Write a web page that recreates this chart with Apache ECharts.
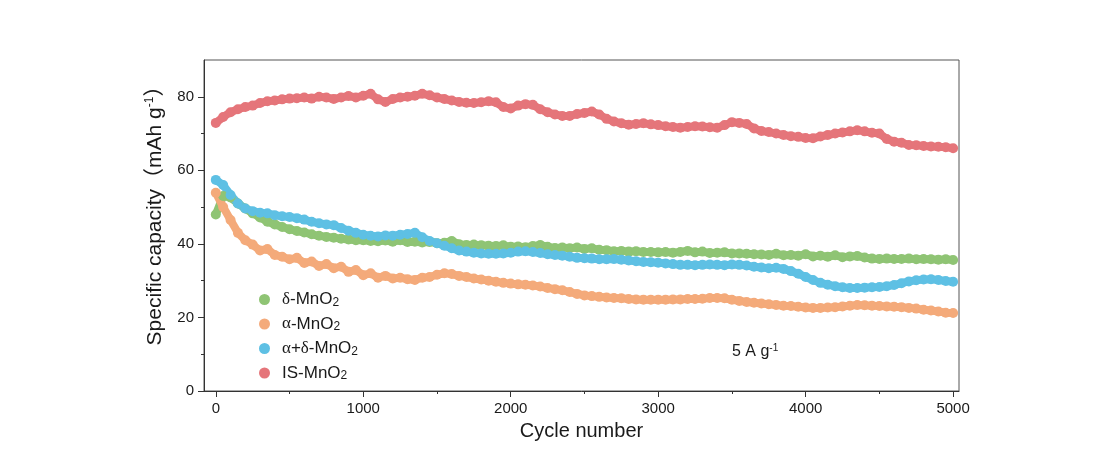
<!DOCTYPE html>
<html>
<head>
<meta charset="utf-8">
<script src="https://cdn.jsdelivr.net/npm/echarts@6/dist/echarts.min.js"></script>
<style>html,body{margin:0;padding:0;background:#fff;}#c{width:1100px;height:457px;}</style>
</head>
<body>
<div id="c"></div>
<script>
const cycles = [0,50,100,150,200,250,300,350,400,450,500,550,600,650,700,750,800,850,900,950,
1000,1050,1100,1150,1200,1250,1300,1350,1400,1450,1500,1550,1600,1650,1700,1750,1800,1850,1900,1950,
2000,2050,2100,2150,2200,2250,2300,2350,2400,2450,2500,2550,2600,2650,2700,2750,2800,2850,2900,2950,
3000,3050,3100,3150,3200,3250,3300,3350,3400,3450,3500,3550,3600,3650,3700,3750,3800,3850,3900,3950,
4000,4050,4100,4150,4200,4250,4300,4350,4400,4450,4500,4550,4600,4650,4700,4750,4800,4850,4900,4950,5000];

const deltaMnO2 = [48.0,53.0,52.6,51.0,49.6,48.3,47.2,46.0,45.3,44.6,44.0,43.5,43.1,42.6,42.2,41.9,41.7,41.4,41.2,41.0,
41.0,40.8,40.7,40.9,40.6,41.0,40.5,40.6,40.4,40.5,40.2,40.3,40.8,39.9,39.7,39.8,39.6,39.5,39.4,39.6,
39.2,39.3,39.1,39.4,39.7,39.2,38.9,39.0,38.8,39.0,38.6,38.8,38.4,38.3,38.0,38.1,37.9,38.0,37.8,37.8,
37.7,37.8,37.6,37.8,38.1,37.7,37.9,37.5,37.6,37.7,37.4,37.4,37.3,37.2,37.1,37.0,37.3,36.9,37.0,36.8,
37.2,36.6,36.8,36.5,36.9,36.4,36.6,36.7,36.3,36.0,35.9,36.0,35.9,35.9,36.0,35.8,35.9,35.8,35.7,35.8,35.6];

const alphaMnO2 = [53.9,50.0,46.5,43.0,41.0,39.8,38.2,38.6,37.0,36.5,35.8,36.2,34.8,35.2,34.0,34.5,33.4,33.8,32.4,32.9,
31.5,32.0,30.8,31.3,30.6,30.8,30.4,30.2,30.8,31.0,31.6,32.0,31.8,31.3,31.0,30.6,30.3,30.0,29.7,29.4,
29.2,29.0,28.9,28.7,28.4,28.0,27.7,27.4,26.9,26.4,26.0,25.8,25.6,25.4,25.3,25.2,25.0,24.9,24.8,24.8,
24.8,24.8,24.9,24.9,25.0,25.0,25.1,25.3,25.3,25.2,24.8,24.5,24.2,24.0,23.8,23.6,23.4,23.2,23.1,22.9,
22.7,22.6,22.6,22.7,22.8,23.0,23.2,23.4,23.3,23.2,23.1,23.0,22.9,22.8,22.6,22.4,22.1,21.9,21.6,21.3,21.2];

const alphaDeltaMnO2 = [57.4,56.0,53.3,51.0,49.6,48.9,48.5,48.3,47.8,47.5,47.3,47.0,46.6,46.0,45.6,45.3,45.1,44.3,43.6,43.0,
42.5,42.2,42.0,42.3,42.2,42.5,42.7,43.0,41.8,40.8,40.2,39.5,38.8,38.2,37.9,37.6,37.4,37.3,37.3,37.4,
37.6,37.9,38.0,37.8,37.5,37.2,37.0,36.8,36.5,36.2,36.1,36.0,35.8,35.8,35.9,35.7,35.5,35.3,35.1,35.0,
34.9,34.7,34.5,34.3,34.3,34.2,34.3,34.4,34.3,34.2,34.4,34.3,34.1,33.8,33.6,33.4,33.5,33.2,32.6,31.9,
31.0,30.2,29.4,28.9,28.5,28.2,28.0,28.0,28.1,28.2,28.3,28.5,28.8,29.3,29.8,30.1,30.3,30.4,30.2,29.9,29.7];

const isMnO2 = [72.9,74.5,75.8,76.6,77.2,77.6,78.3,78.8,79.0,79.3,79.5,79.6,79.8,79.5,80.0,79.8,79.4,79.8,80.2,79.8,
80.3,80.8,79.3,78.6,79.4,79.8,80.0,80.3,80.8,80.4,79.8,79.4,79.0,78.6,78.4,78.3,78.5,78.8,78.5,77.2,
76.8,77.6,78.0,77.8,76.6,75.8,75.2,74.8,74.8,75.3,75.6,76.0,75.2,74.0,73.3,72.8,72.4,72.6,72.8,72.5,
72.3,72.0,71.8,71.6,71.8,72.0,71.9,71.7,71.6,72.3,73.1,72.9,72.6,71.4,70.7,70.4,70.0,69.6,69.3,69.1,
68.8,68.7,69.2,69.6,70.0,70.3,70.6,70.9,70.6,70.2,70.0,68.5,67.8,67.5,66.9,66.8,66.6,66.5,66.4,66.3,66.0];

const xTicks = [0,1000,2000,3000,4000,5000];
const xMinorTicks = [500,1500,2500,3500,4500];
const yTicks = [0,20,40,60,80];
const yMinorTicks = [10,30,50,70];

const seriesNames = ['δ-MnO2','α-MnO2','α+δ-MnO2','IS-MnO2'];
const seriesData = [deltaMnO2, alphaMnO2, alphaDeltaMnO2, isMnO2];
const colors = ['#8fc474','#f4aa7a','#5ec0e4','#e5757a'];

const FONT = 'Liberation Sans, Arial, Noto Sans CJK SC, sans-serif';
const chart = echarts.init(document.getElementById('c'), null, {renderer:'canvas'});

function pairs(ys){ return cycles.map((c,i)=>[c, ys[i]]); }

const legendLabels = {
  'δ-MnO2': '{g|δ}{t|-MnO}{s|2}',
  'α-MnO2': '{g|α}{t|-MnO}{s|2}',
  'α+δ-MnO2': '{g|α}{t|+}{g|δ}{t|-MnO}{s|2}',
  'IS-MnO2': '{t|IS-MnO}{s|2}'
};

const option = {
  backgroundColor: '#ffffff',
  animation: false,
  grid: { left: 204, top: 60, right: 141, bottom: 66, show: true, borderColor: '#555', borderWidth: 1, backgroundColor: 'transparent' },
  legend: {
    orient: 'vertical', left: 254, top: 286, itemWidth: 11, itemHeight: 11, itemGap: 7,
    icon: 'circle',
    data: seriesNames,
    formatter: n => legendLabels[n],
    textStyle: {
      fontFamily: FONT, color: '#1a1a1a', fontSize: 17,
      rich: {
        g: { fontFamily: 'Liberation Serif, DejaVu Serif, serif', fontSize: 17, color: '#1a1a1a', lineHeight: 18 },
        t: { fontFamily: FONT, fontSize: 17, color: '#1a1a1a', lineHeight: 18 },
        s: { fontFamily: FONT, fontSize: 12, color: '#1a1a1a', lineHeight: 5, verticalAlign: 'bottom' }
      },
      padding: [0,0,0,7]
    }
  },
  xAxis: [{
    type: 'value', min: -80, max: 5040, gridIndex: 0, position: 'bottom',
    name: 'Cycle number', nameLocation: 'middle', nameGap: 30,
    nameTextStyle: { fontFamily: FONT, fontSize: 20, color: '#1a1a1a' },
    axisLine: { show: true, onZero: false, lineStyle: { color: '#333', width: 1 } },
    axisTick: { show: true, inside: false, length: 6, customValues: xTicks, lineStyle: { color: '#333' } },
    axisLabel: { show: true, customValues: xTicks, margin: 10, fontFamily: FONT, fontSize: 15, color: '#1a1a1a', formatter: v => String(v) },
    splitLine: { show: false }
  },{
    type: 'value', min: -80, max: 5040, gridIndex: 0, position: 'bottom',
    axisLine: { show: false, onZero: false },
    axisTick: { show: true, inside: false, length: 3, customValues: xMinorTicks, lineStyle: { color: '#333' } },
    axisLabel: { show: false },
    splitLine: { show: false }
  }],
  yAxis: [{
    type: 'value', min: 0, max: 90, gridIndex: 0, position: 'left',
    name: 'Specific capacity（mAh g{sup|-1}）', nameLocation: 'middle', nameGap: 38, nameRotate: 90,
    nameTextStyle: { fontFamily: FONT, fontSize: 21, color: '#1a1a1a', padding: [0,0,0,30],
      rich: { sup: { fontFamily: FONT, fontSize: 12, color: '#1a1a1a', verticalAlign: 'top', padding: [0,0,10,0] } } },
    axisLine: { show: true, onZero: false, lineStyle: { color: '#333', width: 1 } },
    axisTick: { show: true, inside: false, length: 6, customValues: yTicks, lineStyle: { color: '#333' } },
    axisLabel: { show: true, customValues: yTicks, margin: 10, fontFamily: FONT, fontSize: 15, color: '#1a1a1a' },
    splitLine: { show: false }
  },{
    type: 'value', min: 0, max: 90, gridIndex: 0, position: 'left',
    axisLine: { show: false, onZero: false },
    axisTick: { show: true, inside: false, length: 3, customValues: yMinorTicks, lineStyle: { color: '#333' } },
    axisLabel: { show: false },
    splitLine: { show: false }
  }],
  graphic: [{
    type: 'text', left: 732, top: 343,
    style: {
      text: '{t|5 A g}{p|-1}',
      rich: {
        t: { fontFamily: FONT, fontSize: 16, fill: '#1a1a1a', lineHeight: 18 },
        p: { fontFamily: FONT, fontSize: 10, fill: '#1a1a1a', lineHeight: 18, verticalAlign: 'top', padding: [0,0,8,0] }
      }
    }
  }],
  series: seriesNames.map((n, i) => ({
    name: n, type: 'line', xAxisIndex: 0, yAxisIndex: 0,
    symbol: 'circle', symbolSize: 10, showSymbol: true,
    lineStyle: { color: colors[i], width: 8, cap: 'round', join: 'round' },
    itemStyle: { color: colors[i], opacity: 1 },
    emphasis: { disabled: true },
    data: pairs(seriesData[i])
  }))
};
chart.setOption(option);
</script>
</body>
</html>
